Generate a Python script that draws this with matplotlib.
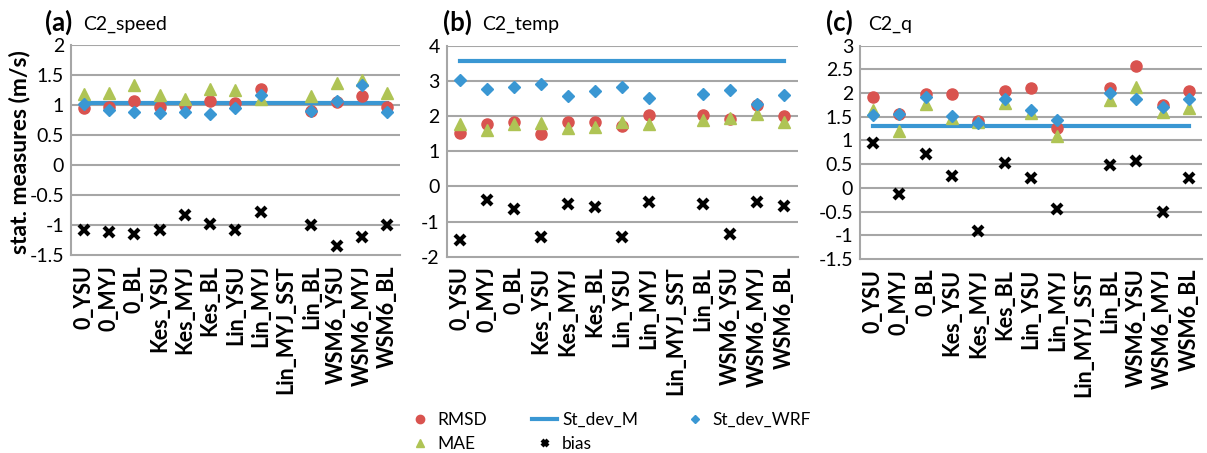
import matplotlib.pyplot as plt
import numpy as np

plt.rcParams['font.family'] = ['Lato', 'DejaVu Sans']

# categories (model runs)
runs = ['0_YSU', '0_MYJ', '0_BL', 'Kes_YSU', 'Kes_MYJ', 'Kes_BL', 'Lin_YSU',
        'Lin_MYJ', 'Lin_MYJ_SST', 'Lin_BL', 'WSM6_YSU', 'WSM6_MYJ', 'WSM6_BL']
nan = np.nan

# (a) C2_speed
speed_rmsd = [0.96, 0.97, 1.07, 0.98, 1.00, 1.07, 1.04, 1.28, nan, 0.91, 1.06, 1.15, 0.98]
speed_mae = [1.19, 1.21, 1.34, 1.18, 1.10, 1.27, 1.25, 1.11, nan, 1.15, 1.38, 1.42, 1.21]
speed_sdwrf = [1.03, 0.93, 0.89, 0.88, 0.89, 0.85, 0.96, 1.17, nan, 0.91, 1.07, 1.34, 0.89]
speed_bias = [-1.08, -1.11, -1.14, -1.08, -0.83, -0.98, -1.07, -0.78, nan, -1.00, -1.35, -1.19, -1.00]
speed_sdm = 1.04

# (b) C2_temp
temp_rmsd = [1.52, 1.76, 1.83, 1.50, 1.83, 1.83, 1.73, 2.02, nan, 2.02, 1.92, 2.30, 1.99]
temp_mae = [1.78, 1.61, 1.76, 1.81, 1.67, 1.69, 1.83, 1.78, nan, 1.88, 1.95, 2.07, 1.83]
temp_sdwrf = [3.02, 2.76, 2.83, 2.92, 2.58, 2.71, 2.83, 2.52, nan, 2.64, 2.75, 2.35, 2.60]
temp_bias = [-1.52, -0.38, -0.65, -1.43, -0.50, -0.60, -1.43, -0.43, nan, -0.50, -1.36, -0.44, -0.55]
temp_sdm = 3.56

# (c) C2_q
q_rmsd = [1.91, 1.56, 1.97, 1.98, 1.42, 2.05, 2.10, 1.26, nan, 2.10, 2.58, 1.74, 2.05]
q_mae = [1.65, 1.19, 1.77, 1.47, 1.40, 1.79, 1.58, 1.09, nan, 1.86, 2.12, 1.61, 1.68]
q_sdwrf = [1.54, 1.56, 1.91, 1.51, 1.37, 1.88, 1.65, 1.44, nan, 2.00, 1.88, 1.70, 1.88]
q_bias = [0.95, -0.12, 0.72, 0.25, -0.90, 0.53, 0.21, -0.44, nan, 0.49, 0.56, -0.50, 0.20]
q_sdm = 1.30

red = '#D9534F'
green = '#AFC455'
blue = '#3A97D3'
grid = '#A6A6A6'

fig = plt.figure(figsize=(12.07, 4.53), dpi=100)

# axes rect, tag, name, tag right x, name left x (figure fraction), data..., y range, step
panels = [
    ([0.0588, 0.436, 0.2726, 0.4636], '(a)', 'C2_speed', 0.0597, 0.0688,
     speed_rmsd, speed_mae, speed_sdwrf, speed_bias, speed_sdm, (-1.5, 2), 0.5),
    ([0.3701, 0.4333, 0.2908, 0.4658], '(b)', 'C2_temp', 0.391, 0.3993,
     temp_rmsd, temp_mae, temp_sdwrf, temp_bias, temp_sdm, (-2, 4), 1),
    ([0.7125, 0.4283, 0.2834, 0.4709], '(c)', 'C2_q', 0.7067, 0.7191,
     q_rmsd, q_mae, q_sdwrf, q_bias, q_sdm, (-1.5, 3), 0.5),
]

x = np.arange(len(runs))
handles = None
for pos, tag, name, tx, nx, rmsd, mae, sdwrf, bias, sdm, ylim, step in panels:
    ax = fig.add_axes(pos)
    ticks = np.arange(ylim[0], ylim[1] + step / 2, step)
    for t in ticks[1:]:
        ax.axhline(t, color=grid, lw=1.5, zorder=0)
    h_sdm, = ax.plot(x, [sdm] * len(x), color=blue, lw=3, zorder=2)
    h_rmsd, = ax.plot(x, rmsd, 'o', color=red, ms=8, zorder=3)
    h_sdwrf, = ax.plot(x, sdwrf, 'D', color=blue, ms=6, zorder=4)
    h_mae, = ax.plot(x, mae, '^', color=green, ms=8, zorder=3.5)
    h_bias, = ax.plot(x, bias, 'x', color='black', ms=6.5, mew=3, zorder=5)
    handles = [h_rmsd, h_mae, h_sdm, h_bias, h_sdwrf]

    ax.set_xlim(-0.5, len(runs) - 0.5)
    ax.set_ylim(*ylim)
    ax.set_yticks(ticks)
    ax.set_yticklabels(['{:g}'.format(t) for t in ticks], fontsize=14)
    ax.set_xticks(x)
    ax.set_xticklabels(runs, rotation=90, fontsize=15.5, fontweight='bold')
    ax.tick_params(length=0)
    ax.tick_params(axis='x', pad=7)
    ax.tick_params(axis='y', pad=5)
    for s in ['top', 'right']:
        ax.spines[s].set_visible(False)
    for s in ['left', 'bottom']:
        ax.spines[s].set_color(grid)
        ax.spines[s].set_linewidth(1.5)
    fig.text(tx, 0.933, tag, fontsize=18.5, fontweight='bold', ha='right', va='baseline')
    fig.text(nx, 0.935, name, fontsize=14, ha='left', va='baseline')

fig.text(0.016, 0.665, 'stat. measures (m/s)', rotation=90, fontsize=16.5, fontweight='bold',
         ha='center', va='center')

labels = ['RMSD', 'MAE', 'St_dev_M', 'bias', 'St_dev_WRF']
fig.legend(handles, labels, ncol=3, loc='center', bbox_to_anchor=(0.505, 0.046),
           frameon=False, fontsize=12.5, handlelength=1.4, columnspacing=2.6,
           labelspacing=0.45, handletextpad=0.3, markerscale=0.75)

fig.savefig('out.png', dpi=100)
